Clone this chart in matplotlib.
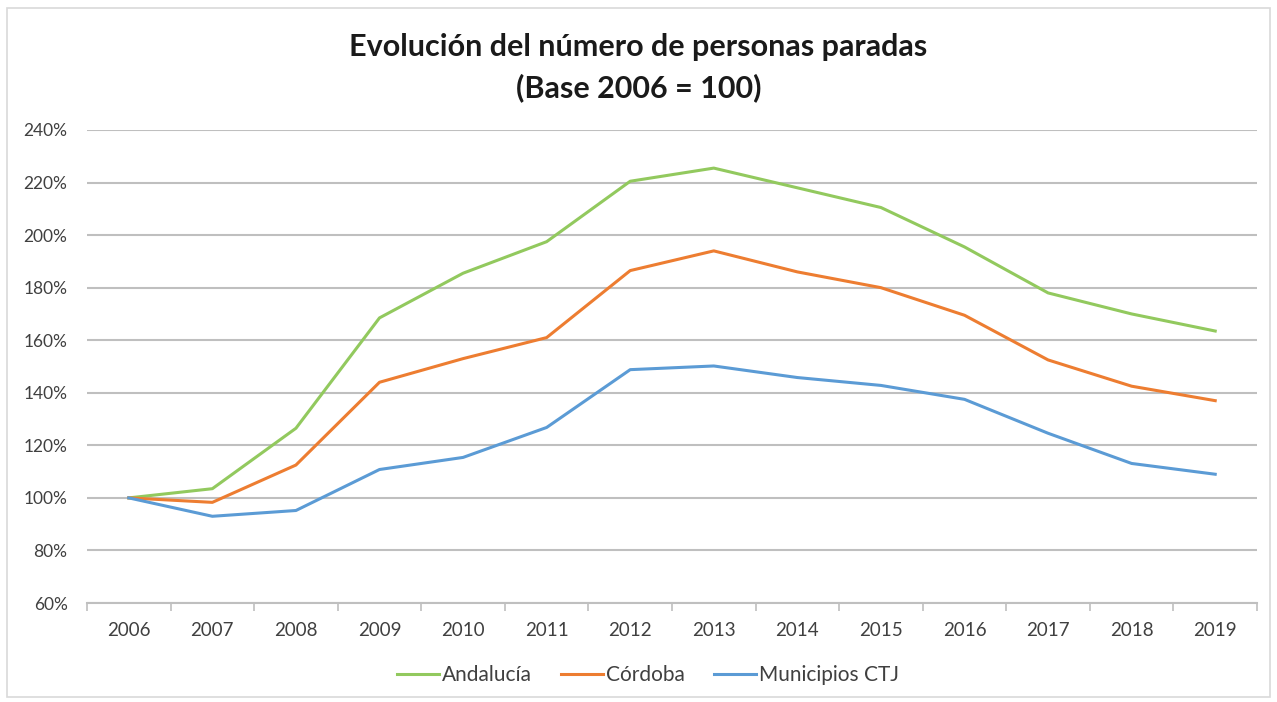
import matplotlib
matplotlib.use("Agg")
import matplotlib.pyplot as plt
from matplotlib.patches import Rectangle
from matplotlib.ticker import FixedLocator, FuncFormatter

years = ["2006", "2007", "2008", "2009", "2010", "2011", "2012",
         "2013", "2014", "2015", "2016", "2017", "2018", "2019"]
andalucia = [100, 103.5, 126.5, 168.5, 185.5, 197.5, 220.5,
             225.5, 218, 210.5, 195.5, 178, 170, 163.5]
cordoba = [100, 98.3, 112.5, 144, 153, 161, 186.5,
           194, 186, 180, 169.5, 152.5, 142.5, 137]
municipios = [100, 93, 95.2, 110.8, 115.4, 126.8, 148.8,
              150.2, 145.8, 142.8, 137.5, 124.6, 113.1, 109]
series_names = ["Andalucía", "Córdoba", "Municipios CTJ"]
yticks = [60, 80, 100, 120, 140, 160, 180, 200, 220, 240]

plt.rcParams['font.family'] = ['Lato', 'DejaVu Sans']

fig = plt.figure(figsize=(12.77, 7.02), dpi=100)
fig.patch.set_facecolor("white")
fig.add_artist(Rectangle((7/1277, 1-697/702), 1263/1277, 689/702,
                         transform=fig.transFigure, fill=False,
                         edgecolor="#D9D9D9", linewidth=1.2))

ax = fig.add_axes([87/1277, 1-603/702, 1170/1277, 473/702])
x = list(range(len(years)))
colors = ["#92C95E", "#ED7D31", "#5B9BD5"]
for vals, name, c in zip([andalucia, cordoba, municipios], series_names, colors):
    ax.plot(x, vals, color=c, linewidth=2.2, label=name, solid_joinstyle="round")

ax.set_xlim(-0.5, len(years) - 0.5)
ax.set_ylim(60, 240)
ax.set_yticks(yticks)
ax.yaxis.set_major_formatter(FuncFormatter(lambda v, p: f"{int(v)}%"))
ax.set_xticks(x)
ax.set_xticklabels(years)
ax.xaxis.set_minor_locator(FixedLocator([i - 0.5 for i in range(len(years) + 1)]))
ax.tick_params(axis="x", which="major", length=0, pad=14, labelsize=13.5, labelcolor="#404040")
ax.tick_params(axis="x", which="minor", length=6, color="#BFBFBF", width=1.2)
ax.tick_params(axis="y", length=0, pad=14, labelsize=12.5, labelcolor="#404040")
ax.grid(axis="y", color="#BFBFBF", linewidth=1.5)
ax.set_axisbelow(True)
for s in ["top", "right", "left"]:
    ax.spines[s].set_visible(False)
ax.spines["bottom"].set_color("#BFBFBF")
ax.spines["bottom"].set_linewidth(1.5)

fig.text(0.5, 1-47/702, "Evolución del número de personas paradas",
         ha="center", va="center", fontsize=22, fontweight="bold", color="#1a1a1a")
fig.text(0.5, 1-88/702, "(Base 2006 = 100)",
         ha="center", va="center", fontsize=22, fontweight="bold", color="#1a1a1a")

fig.legend(loc="center", bbox_to_anchor=(648/1277, 1-675/702), ncol=3, frameon=False,
           fontsize=15, handlelength=2.0, handletextpad=0.15, columnspacing=1.4,
           labelcolor="#404040")

fig.savefig("out.png", dpi=100, facecolor="white")
